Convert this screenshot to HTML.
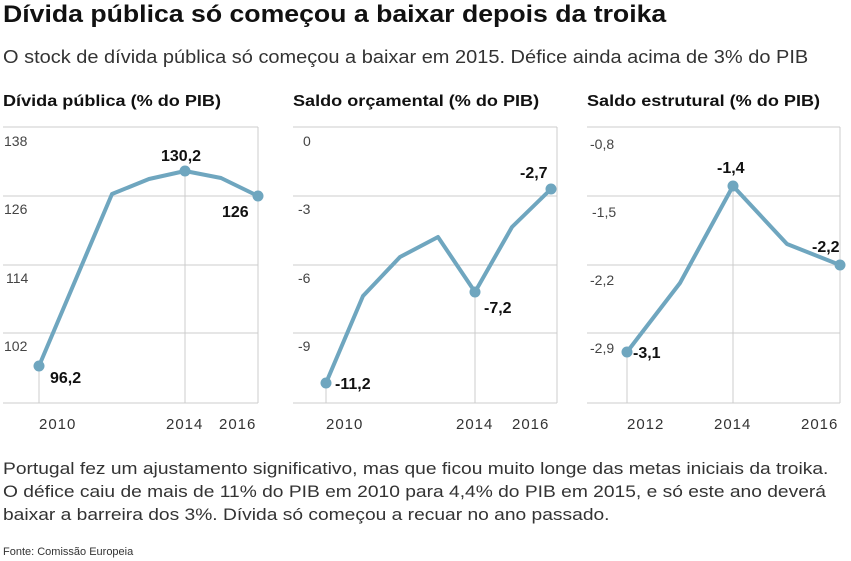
<!DOCTYPE html>
<html><head><meta charset="utf-8"><style>
body{margin:0;width:851px;height:561px;background:#fff;font-family:"Liberation Sans",sans-serif;overflow:hidden;position:relative}
.t{position:absolute;white-space:nowrap;transform-origin:0 0}
</style></head><body>
<div class="t" style="left:3px;top:1px;font-size:24px;font-weight:bold;color:#111;transform:scaleX(1.11)">Dívida pública só começou a baixar depois da troika</div>
<div class="t" style="left:3px;top:47px;font-size:18px;color:#333;transform:scaleX(1.11)">O stock de dívida pública só começou a baixar em 2015. Défice ainda acima de 3% do PIB</div>
<div class="t" style="left:3px;top:93px;font-size:16px;font-weight:bold;color:#111;transform:scaleX(1.13)">Dívida pública (% do PIB)</div>
<div class="t" style="left:293px;top:93px;font-size:16px;font-weight:bold;color:#111;transform:scaleX(1.13)">Saldo orçamental (% do PIB)</div>
<div class="t" style="left:587px;top:93px;font-size:16px;font-weight:bold;color:#111;transform:scaleX(1.13)">Saldo estrutural (% do PIB)</div>
<svg width="851" height="561" style="position:absolute;left:0;top:0" font-family="Liberation Sans, sans-serif">
<g stroke="#ccc" stroke-width="1">
<line x1="3" y1="127" x2="258" y2="127"/><line x1="3" y1="196" x2="258" y2="196"/><line x1="3" y1="265" x2="258" y2="265"/><line x1="3" y1="333" x2="258" y2="333"/><line x1="3" y1="403" x2="258" y2="403"/>
<line x1="258" y1="127" x2="258" y2="403"/><line x1="39" y1="366" x2="39" y2="403"/><line x1="185" y1="171" x2="185" y2="403"/>
<line x1="293" y1="127" x2="557" y2="127"/><line x1="293" y1="196" x2="557" y2="196"/><line x1="293" y1="265" x2="557" y2="265"/><line x1="293" y1="333" x2="557" y2="333"/><line x1="293" y1="403" x2="557" y2="403"/>
<line x1="557" y1="127" x2="557" y2="403"/><line x1="326" y1="383" x2="326" y2="403"/><line x1="475" y1="292" x2="475" y2="403"/>
<line x1="587" y1="127" x2="840" y2="127"/><line x1="587" y1="196" x2="840" y2="196"/><line x1="587" y1="265" x2="840" y2="265"/><line x1="587" y1="333" x2="840" y2="333"/><line x1="587" y1="403" x2="840" y2="403"/>
<line x1="840" y1="127" x2="840" y2="403"/><line x1="627" y1="352" x2="627" y2="403"/><line x1="733" y1="186" x2="733" y2="403"/>
</g>
<g fill="none" stroke="#6fa6bf" stroke-width="4" stroke-linejoin="round">
<polyline points="39,366 112,194 149,179 185,171 221,178 258,196"/>
<polyline points="326,383 363,296 400,257 438,237 475,292 512,227 551,189"/>
<polyline points="627,352 680,283 733,186 787,244 840,265"/>
</g>
<g fill="#6fa6bf">
<circle cx="39" cy="366" r="5.5"/><circle cx="185" cy="171" r="5.5"/><circle cx="258" cy="196" r="5.5"/>
<circle cx="326" cy="383" r="5.5"/><circle cx="475" cy="292" r="5.5"/><circle cx="551" cy="189" r="5.5"/>
<circle cx="627" cy="352" r="5.5"/><circle cx="733" cy="186" r="5.5"/><circle cx="840" cy="265" r="5.5"/>
</g>
<g font-size="14" fill="#444">
<text x="4" y="146">138</text><text x="4" y="214">126</text><text x="6" y="283">114</text><text x="4" y="351">102</text>
<text x="303" y="146">0</text><text x="298" y="214">-3</text><text x="298" y="283">-6</text><text x="298" y="351">-9</text>
<text x="590" y="149">-0,8</text><text x="592" y="217">-1,5</text><text x="590" y="285">-2,2</text><text x="590" y="353">-2,9</text>
</g>
<g font-size="15" fill="#333" letter-spacing="1">
<text x="39" y="429">2010</text><text x="166" y="429">2014</text><text x="219" y="429">2016</text>
<text x="326" y="429">2010</text><text x="456" y="429">2014</text><text x="512" y="429">2016</text>
<text x="627" y="429">2012</text><text x="714" y="429">2014</text><text x="801" y="429">2016</text>
</g>
<g font-size="16" font-weight="bold" fill="#111">
<text x="50" y="383">96,2</text><text x="161" y="161">130,2</text><text x="222" y="217">126</text>
<text x="335" y="389">-11,2</text><text x="484" y="313">-7,2</text><text x="520" y="178">-2,7</text>
<text x="633" y="358">-3,1</text><text x="717" y="173">-1,4</text><text x="812" y="252">-2,2</text>
</g>
</svg>
<div class="t" style="left:3px;top:457px;font-size:17px;line-height:23px;color:#333;transform:scaleX(1.13)">Portugal fez um ajustamento significativo, mas que ficou muito longe das metas iniciais da troika.<br>O défice caiu de mais de 11% do PIB em 2010 para 4,4% do PIB em 2015, e só este ano deverá<br>baixar a barreira dos 3%. Dívida só começou a recuar no ano passado.</div>
<div class="t" style="left:3px;top:546px;font-size:11px;color:#333">Fonte: Comissão Europeia</div>
</body></html>
